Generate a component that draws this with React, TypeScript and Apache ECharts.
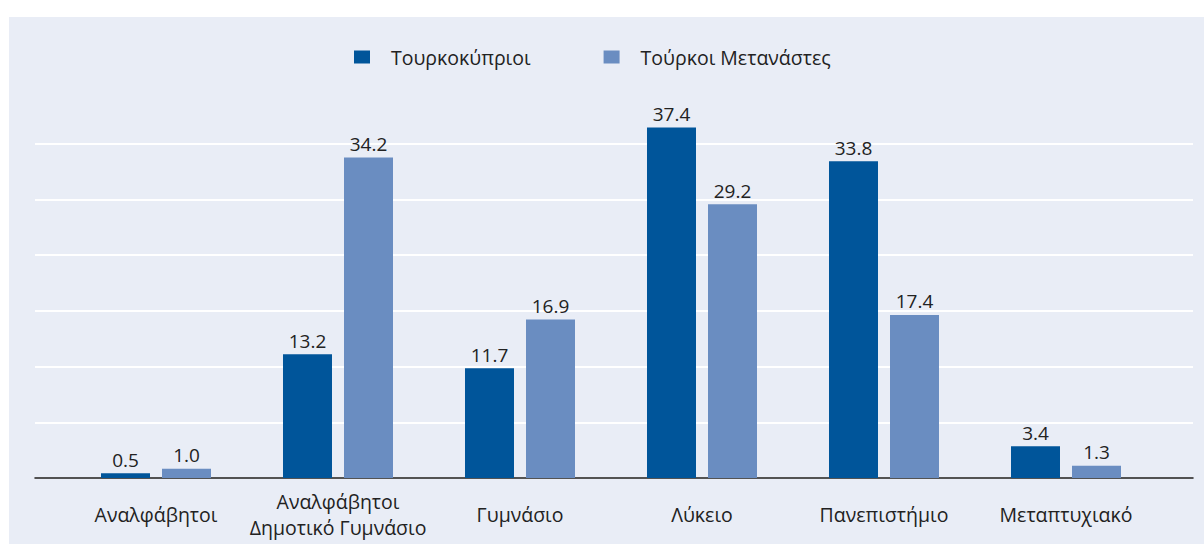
import React, { useEffect, useRef } from "react";
import * as echarts from "echarts";

const categories = [
  "Αναλφάβητοι",
  "Αναλφάβητοι\nΔημοτικό Γυμνάσιο",
  "Γυμνάσιο",
  "Λύκειο",
  "Πανεπιστήμιο",
  "Μεταπτυχιακό",
];
const seriesNames = ["Τουρκοκύπριοι", "Τούρκοι Μετανάστες"];
const turkishCypriots = [0.5, 13.2, 11.7, 37.4, 33.8, 3.4];
const turkishMigrants = [1.0, 34.2, 16.9, 29.2, 17.4, 1.3];

const FONT = "'Open Sans', 'Noto Sans', sans-serif";
const DARK = "#00559a";
const LIGHT = "#6a8dc1";

export default function App() {
  const ref = useRef<HTMLDivElement>(null);

  useEffect(() => {
    if (!ref.current) return;
    const chart = echarts.init(ref.current, null, { renderer: "svg" });
    const splitColors = ["#ffffff", "#ffffff", "#ffffff", "#ffffff", "#ffffff", "#ffffff", "#ffffff", "rgba(0,0,0,0)"];
    const labelCfg = {
      show: true,
      position: "top" as const,
      distance: 4,
      color: "#222",
      fontFamily: FONT,
      fontSize: 19,
      formatter: (p: any) => Number(p.value).toFixed(1),
    };
    chart.setOption({
      animation: false,
      backgroundColor: "#e9edf6",
      textStyle: { fontFamily: FONT },
      legend: {
        left: 340,
        top: 25,
        itemWidth: 16,
        itemHeight: 13,
        itemGap: 73,
        icon: "rect",
        textStyle: { fontFamily: FONT, fontSize: 19.5, color: "#222", padding: [0, 0, 0, 16] },
        data: seriesNames,
      },
      grid: [
        { left: 26, right: 11, top: 71, bottom: 66 },
        { left: 56, right: 47, top: 71, bottom: 66 },
      ],
      xAxis: [
        {
          type: "category",
          gridIndex: 0,
          data: categories,
          axisLine: { show: true, lineStyle: { color: "#1a1a1a", width: 1.5 } },
          axisTick: { show: false },
          axisLabel: { show: false },
          splitLine: { show: false },
        },
        {
          type: "category",
          gridIndex: 1,
          data: categories,
          axisLine: { show: false },
          axisTick: { show: false },
          axisLabel: {
            show: true,
            interval: 0,
            margin: 36,
            verticalAlign: "middle",
            lineHeight: 26,
            color: "#222",
            fontFamily: FONT,
            fontSize: 19.5,
          },
        },
      ],
      yAxis: [
        {
          type: "value",
          gridIndex: 0,
          min: 0,
          max: 42,
          interval: 6,
          axisLine: { show: false },
          axisTick: { show: false },
          axisLabel: { show: false },
          splitLine: { show: true, lineStyle: { color: splitColors, width: 2 } },
        },
        {
          type: "value",
          gridIndex: 1,
          min: 0,
          max: 41.6,
          axisLine: { show: false },
          axisTick: { show: false },
          axisLabel: { show: false },
          splitLine: { show: false },
        },
      ],
      series: [
        {
          name: seriesNames[0],
          type: "bar",
          xAxisIndex: 1,
          yAxisIndex: 1,
          data: turkishCypriots,
          barWidth: 49,
          barGap: "24.5%",
          itemStyle: { color: DARK },
          label: labelCfg,
        },
        {
          name: seriesNames[1],
          type: "bar",
          xAxisIndex: 1,
          yAxisIndex: 1,
          data: turkishMigrants,
          barWidth: 49,
          barGap: "24.5%",
          itemStyle: { color: LIGHT },
          label: labelCfg,
        },
      ],
    });
    return () => chart.dispose();
  }, []);

  return (
    <div style={{ position: "fixed", left: 0, top: 0, width: 1204, height: 544, background: "#ffffff" }}>
      <div ref={ref} style={{ position: "absolute", left: 9, top: 17, width: 1195, height: 527 }} />
    </div>
  );
}
